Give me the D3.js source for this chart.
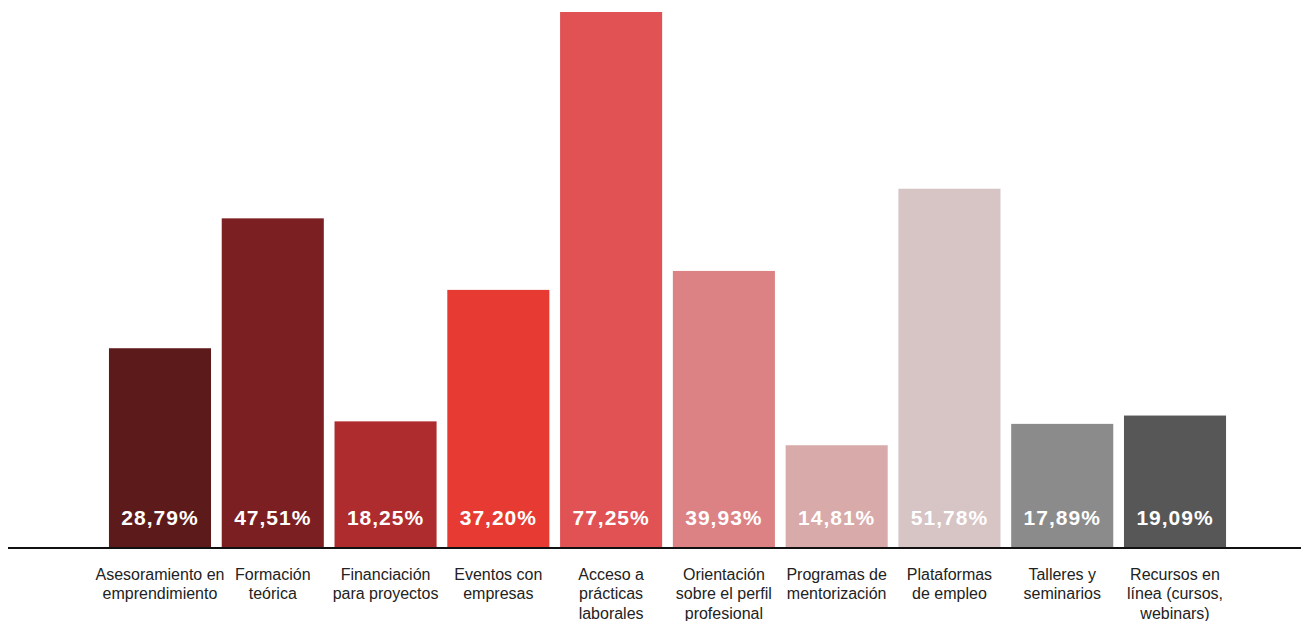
<!DOCTYPE html>
<html><head><meta charset="utf-8">
<script src="https://cdn.jsdelivr.net/npm/d3@7"></script>
<style>html,body{margin:0;padding:0;background:#fff;}svg{display:block;}</style>
</head><body><svg id="c" width="1301" height="621"></svg>
<script>
const categories = [
  ["Asesoramiento en","emprendimiento"],
  ["Formación","teórica"],
  ["Financiación","para proyectos"],
  ["Eventos con","empresas"],
  ["Acceso a","prácticas","laborales"],
  ["Orientación","sobre el perfil","profesional"],
  ["Programas de","mentorización"],
  ["Plataformas","de empleo"],
  ["Talleres y","seminarios"],
  ["Recursos en","línea (cursos,","webinars)"]
];
const values = [28.79, 47.51, 18.25, 37.20, 77.25, 39.93, 14.81, 51.78, 17.89, 19.09];
const colors = ["#5c1a1b","#7b1f22","#ae2c2e","#e63a33","#e15254","#dc8285","#d9aaaa","#d7c4c5","#8b8b8b","#575757"];

const svg = d3.select("#c");
const idx = d3.range(values.length);
const x = d3.scaleBand().domain(idx).range([103.6, 1231.4]).paddingInner(0.095).paddingOuter(0.0475);
const y = d3.scaleLinear().domain([0, d3.max(values)]).range([548, 12]);
const fmt = v => v.toFixed(2).replace(".", ",") + "%";

svg.selectAll("rect.bar").data(idx).join("rect")
  .attr("x", i => x(i)).attr("width", x.bandwidth())
  .attr("y", i => y(values[i])).attr("height", i => y(0) - y(values[i]))
  .attr("fill", i => colors[i]);

svg.append("line").attr("x1", 8).attr("x2", 1301).attr("y1", 548).attr("y2", 548)
  .attr("stroke", "#111").attr("stroke-width", 2);

svg.selectAll("text.val").data(idx).join("text")
  .attr("x", i => x(i) + x.bandwidth()/2).attr("y", 524.5)
  .attr("text-anchor", "middle")
  .attr("fill", "#fff").attr("font-family", "Liberation Sans, Arial, sans-serif")
  .attr("font-weight", "bold").attr("font-size", 21).attr("letter-spacing", 1)
  .text(i => fmt(values[i]));

const g = svg.selectAll("text.cat").data(idx).join("text")
  .attr("text-anchor", "middle").attr("fill", "#222")
  .attr("font-family", "Liberation Sans, Arial, sans-serif").attr("font-size", 16);
g.each(function(i){
  const t = d3.select(this);
  categories[i].forEach((ln, k) => {
    t.append("tspan").attr("x", x(i) + x.bandwidth()/2).attr("y", 579.5 + k*19.5).text(ln);
  });
});
</script></body></html>
